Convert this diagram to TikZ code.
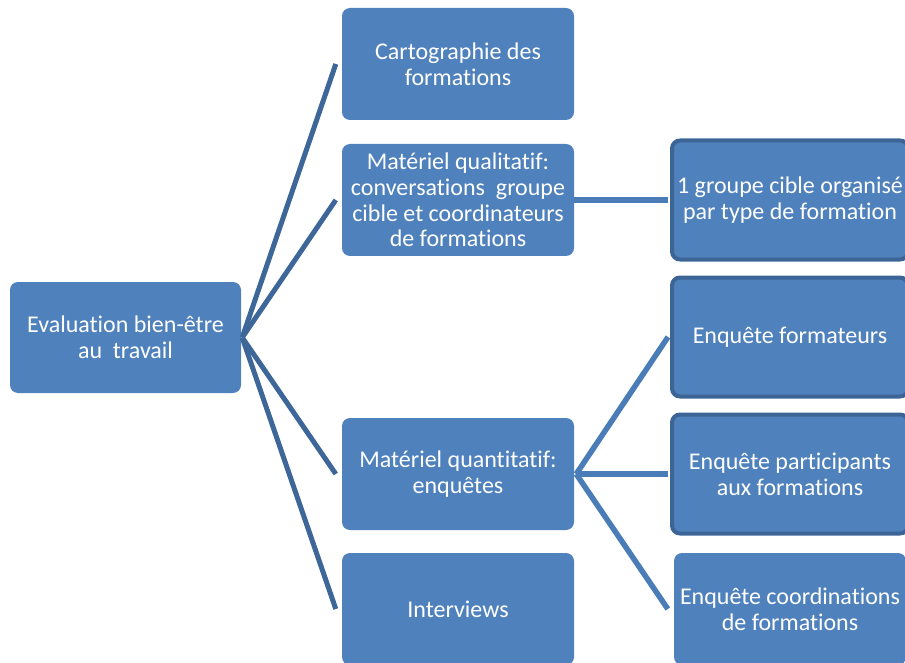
\documentclass[tikz,border=0pt]{standalone}
\usepackage{fontspec}
\setmainfont{Carlito}[RawFeature=-liga]
\definecolor{boxfill}{HTML}{4F81BD}
\definecolor{boxedge}{HTML}{3C6596}
\definecolor{rootline}{HTML}{3D6699}
\definecolor{subline}{HTML}{4A7CB8}
\begin{document}
\begin{tikzpicture}[x=1pt,y=1pt,
  box/.style={rectangle, rounded corners=8pt, fill=boxfill, draw=none, text=white,
    minimum width=232pt, minimum height=112pt, inner sep=0pt, align=center,
    font=\fontsize{24}{25.7}\selectfont},
  edgebox/.style={box, draw=boxedge, line width=4pt, minimum width=236pt, minimum height=119pt},
  rlink/.style={draw=rootline, line width=5pt},
  slink/.style={draw=subline, line width=5.5pt}]
\useasboundingbox (0,0) rectangle (905,-663);
\clip (0,0) rectangle (905,-663);
\node[box, minimum width=231pt, minimum height=111pt] (root) at (125.5,-337.5) {Evaluation bien-être\\au\ \ travail};
\node[box] (cart) at (458,-64) {Cartographie des\\formations};
\node[box] (qual) at (458,-200) {Matériel qualitatif:\\conversations\ \ groupe\\cible et coordinateurs\\de formations};
\node[box] (quant) at (458,-474) {Matériel quantitatif:\\enquêtes};
\node[box] (inter) at (458,-609) {Interviews};
\node[edgebox] (cible) at (790,-200) {1 groupe cible organisé\\par type de formation};
\node[edgebox] (form) at (790,-337) {Enquête formateurs};
\node[edgebox] (part) at (790,-474) {Enquête participants\\aux formations};
\node[box] (coord) at (790,-609) {Enquête coordinations\\de formations};
\draw[rlink] ([xshift=1pt]root.east) -- ([xshift=-6pt]cart.west);
\draw[rlink] ([xshift=1pt]root.east) -- ([xshift=-6pt]qual.west);
\draw[rlink] ([xshift=1pt]root.east) -- ([xshift=-6pt]quant.west);
\draw[rlink] ([xshift=1pt]root.east) -- ([xshift=-6pt]inter.west);
\draw[slink] (qual.east) -- ([xshift=-2pt]cible.west);
\draw[slink] ([xshift=2pt]quant.east) -- ([xshift=-2pt]form.west);
\draw[slink] ([xshift=2pt]quant.east) -- ([xshift=-2pt]part.west);
\draw[slink] ([xshift=2pt]quant.east) -- ([xshift=-6pt]coord.west);
\end{tikzpicture}
\end{document}
